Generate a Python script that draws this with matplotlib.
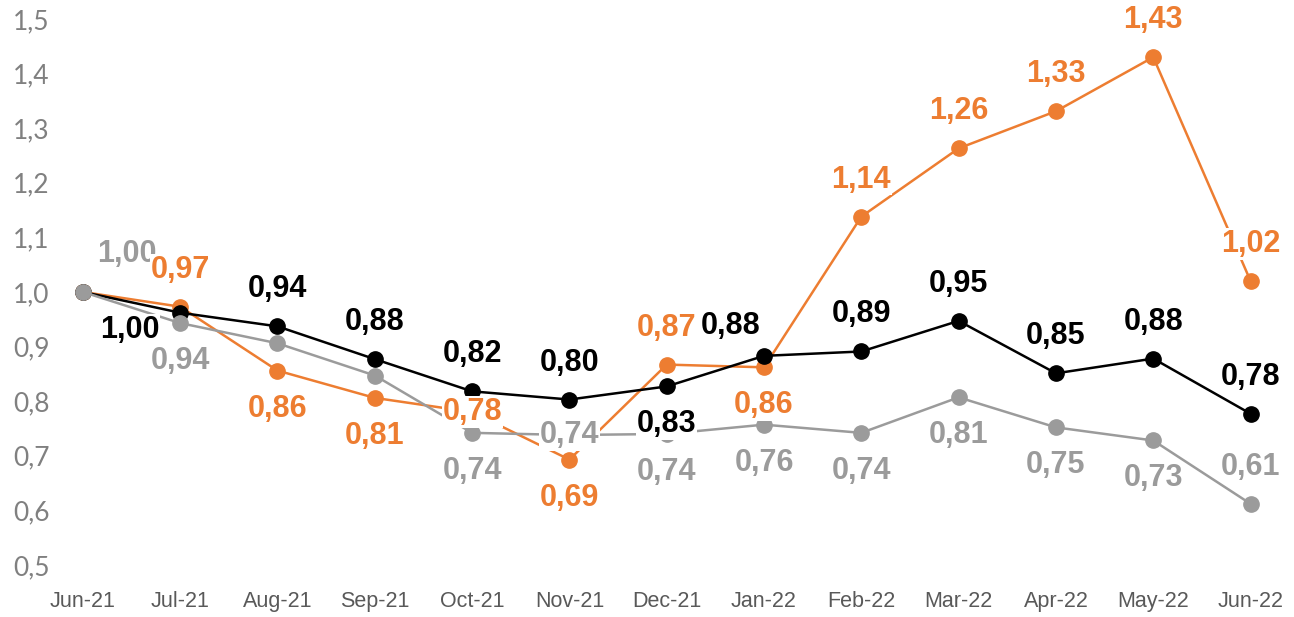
import matplotlib
matplotlib.use('Agg')
import matplotlib.pyplot as plt
from matplotlib.ticker import FuncFormatter

months = ['Jun-21', 'Jul-21', 'Aug-21', 'Sep-21', 'Oct-21', 'Nov-21', 'Dec-21',
          'Jan-22', 'Feb-22', 'Mar-22', 'Apr-22', 'May-22', 'Jun-22']

black_vals = [1.00, 0.962, 0.937, 0.877, 0.818, 0.803, 0.827, 0.883, 0.891, 0.947, 0.851, 0.878, 0.777]
orange_vals = [1.00, 0.973, 0.856, 0.806, 0.780, 0.693, 0.867, 0.862, 1.138, 1.263, 1.331, 1.430, 1.020]
grey_vals = [1.00, 0.943, 0.906, 0.847, 0.742, 0.738, 0.740, 0.757, 0.742, 0.807, 0.752, 0.728, 0.612]

# label offsets in pixels (dx, dy), None = no label
U, D = (0, 37), (0, -38)
black_off = [(47, -38), None, U, U, U, U, D, (-33, 30), U, U, U, U, U]
orange_off = [None, U, D, D, (0, 0), D, U, D, U, U, U, U, U]
grey_off = [(44, 38), D, None, None, D, (0, 0), D, D, D, D, D, D, U]

C_BLACK = '#000000'
C_ORANGE = '#ED7D31'
C_GREY = '#9B9B9B'

fig = plt.figure(figsize=(12.94, 6.17), dpi=100)
ax = fig.add_axes([0.046, 0.0843, 0.943, 0.885])

x = list(range(len(months)))
for vals, col, z in [(orange_vals, C_ORANGE, 2), (black_vals, C_BLACK, 3), (grey_vals, C_GREY, 4)]:
    ax.plot(x, vals, color=col, lw=1.8, marker='o', markersize=11, zorder=z)

def put_labels(vals, offs, col, z):
    for i, (v, o) in enumerate(zip(vals, offs)):
        if o is None:
            continue
        ax.annotate(f"{v:.2f}".replace('.', ','), (i, v), xytext=o,
                    textcoords='offset pixels', ha='center', va='center',
                    fontsize=22, fontweight='bold', color=col,
                    family='Liberation Sans', zorder=z,
                    bbox=dict(fc='white', ec='none', pad=0.5))

put_labels(grey_vals, grey_off, C_GREY, 10)
put_labels(black_vals, black_off, C_BLACK, 11)
put_labels(orange_vals, orange_off, C_ORANGE, 12)

ax.set_xlim(-0.24, 12.3)
ax.set_ylim(0.5, 1.5)
ax.set_yticks([0.5, 0.6, 0.7, 0.8, 0.9, 1.0, 1.1, 1.2, 1.3, 1.4, 1.5])
ax.yaxis.set_major_formatter(FuncFormatter(lambda v, p: f"{v:.1f}".replace('.', ',')))
ax.set_xticks(x)
ax.set_xticklabels(months)

for s in ax.spines.values():
    s.set_visible(False)
ax.tick_params(axis='both', length=0)
ax.tick_params(axis='x', pad=19, labelsize=15.5, labelcolor='#595959')
for t in ax.get_xticklabels():
    t.set_family('Liberation Sans')
ax.tick_params(axis='y', pad=7, labelsize=19, labelcolor='#808080')
for t in ax.get_yticklabels():
    t.set_family('Lato')

plt.savefig('out.png', dpi=100)
